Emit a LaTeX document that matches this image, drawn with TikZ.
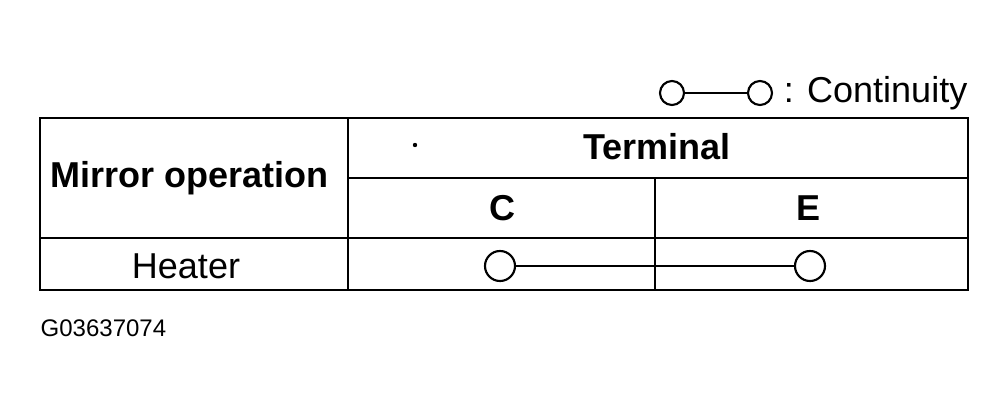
\documentclass[tikz,border=0pt]{standalone}
\usepackage{fontspec}
\setmainfont{Liberation Sans}
\begin{document}
\begin{tikzpicture}[x=0.75pt,y=-0.75pt,
  ln/.style={line width=1.6pt},
  big/.style={font=\fontsize{27}{31}\selectfont},
  bigb/.style={font=\fontsize{27}{31}\selectfont\bfseries},
  circ/.style={circle,draw,line width=1.6pt,inner sep=0pt,minimum size=#1}]
\useasboundingbox (0,0) rectangle (1007,414);
\draw[ln] (40,118) rectangle (968,290);
\draw[ln] (348,118) -- (348,290);
\draw[ln] (348,178) -- (968,178);
\draw[ln] (40,238) -- (968,238);
\draw[ln] (655,178) -- (655,290);
\node[bigb] (mo) at (190,178) {Mirror operation};
\node[bigb] (term) at (657,147) {Terminal};
\fill (415,145) circle (2.2);
\node[bigb] (c) at (502,208) {C};
\node[bigb] (e) at (808,208) {E};
\node[big] (h) at (186,266) {Heater};
\node[circ=22.5pt] (c1) at (500,266) {};
\node[circ=22.5pt] (c2) at (810,266) {};
\draw[ln] (c1) -- (c2);
\node[circ=18pt] (l1) at (672,93) {};
\node[circ=18pt] (l2) at (760,93) {};
\draw[line width=1pt] (l1) -- (l2);
\node[big,anchor=east] (cont) at (972,93) {: Continuity};
\node[font=\fontsize{18}{21}\selectfont,anchor=west] (g) at (36,328) {G03637074};
\end{tikzpicture}
\end{document}
